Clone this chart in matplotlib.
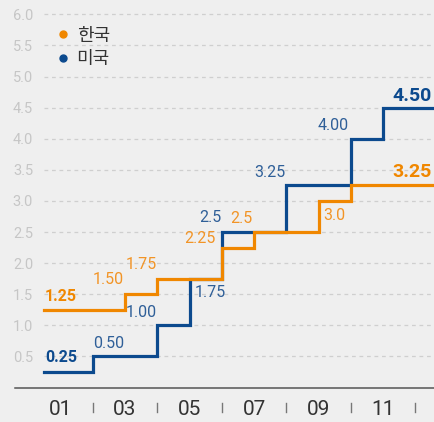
import matplotlib
matplotlib.use("Agg")
import matplotlib.pyplot as plt
from matplotlib.lines import Line2D

plt.rcParams['font.family'] = ['Roboto', 'Noto Sans CJK KR', 'DejaVu Sans']

# policy rate steps: period where the rate changed, and the new rate
kr_name = '한국'
kr_x = [0.5, 3, 4, 6, 7, 9, 10]
kr_rate = [1.25, 1.50, 1.75, 2.25, 2.50, 3.00, 3.25]
kr_text = ['1.25', '1.50', '1.75', '2.25', '2.5', '3.0', '3.25']

us_name = '미국'
us_x = [0.5, 2, 4, 5, 6, 8, 10, 11]
us_rate = [0.25, 0.50, 1.00, 1.75, 2.50, 3.25, 4.00, 4.50]
us_text = ['0.25', '0.50', '1.00', '1.75', '2.5', '3.25', '4.00', '4.50']

x_ticks = [1, 3, 5, 7, 9, 11]
x_ticklabels = ['01', '03', '05', '07', '09', '11']
y_ticks = [0.5, 1.0, 1.5, 2.0, 2.5, 3.0, 3.5, 4.0, 4.5, 5.0, 5.5, 6.0]

# where each value label sits (data coords)
kr_label_pos = [(1.02, 1.47), (2.49, 1.73), (3.50, 1.97), (5.33, 2.40),
                (6.60, 2.72), (9.48, 2.76), (11.90, 3.46)]
us_label_pos = [(1.02, 0.49), (2.50, 0.71), (3.50, 1.21), (5.64, 1.52),
                (5.64, 2.74), (7.50, 3.46), (9.45, 4.22), (11.90, 4.69)]

orange = '#f08700'
navy = '#0c4a8e'
orange_txt = '#f29426'
navy_txt = '#2f5f98'
bg = '#efefef'

x_end = 12.6

fig = plt.figure(figsize=(4.34, 4.22), dpi=100, facecolor=bg)
ax = fig.add_axes([15 / 434, 34.5 / 422, 419 / 434, 373.2 / 422])
ax.set_facecolor(bg)
ax.set_xlim(-0.411, 12.58)
ax.set_ylim(0, 6)

# dashed grid, starting where the data starts
for y in y_ticks:
    ax.plot([0.5, x_end], [y, y], color='#cfcfcf', lw=0.9, ls=(0, (3, 3)),
            zorder=1, clip_on=False)

ax.step(us_x + [x_end], us_rate + [us_rate[-1]], where='post',
        color=navy, lw=2.3, zorder=3, solid_joinstyle='miter')
ax.step(kr_x + [x_end], kr_rate + [kr_rate[-1]], where='post',
        color=orange, lw=2.3, zorder=4, solid_joinstyle='miter')


def value_labels(texts, positions, strong, soft):
    last = len(texts) - 1
    for i, (t, (px, py)) in enumerate(zip(texts, positions)):
        edge = i == 0 or i == last
        size = 14 if i == last else 11.5
        ax.text(px, py, t, color=strong if edge else soft, fontsize=size,
                fontweight='bold' if edge else 'normal',
                ha='center', va='center', zorder=5)


value_labels(kr_text, kr_label_pos, orange, orange_txt)
value_labels(us_text, us_label_pos, navy, navy_txt)

# axes styling
for side in ['top', 'right', 'left']:
    ax.spines[side].set_visible(False)
ax.spines['bottom'].set_color('#555555')
ax.spines['bottom'].set_linewidth(1.1)

ax.set_yticks(y_ticks)
ax.set_yticklabels([f'{v:.1f}' for v in y_ticks])
ax.tick_params(axis='y', length=0, pad=-13, labelsize=10.5, labelcolor='#c6c6c6')
for lbl in ax.get_yticklabels():
    lbl.set_horizontalalignment('right')

ax.set_xticks(x_ticks)
ax.set_xticklabels(x_ticklabels)
ax.tick_params(axis='x', length=0, pad=9, labelsize=15, labelcolor='#333333')

# small separators between the year labels
for xs in [2, 4, 6, 8, 10, 12]:
    ax.plot([xs, xs], [-0.25, -0.39], color='#777777', lw=1.0, clip_on=False)

handles = [Line2D([], [], marker='o', ls='none', color=orange, markersize=5),
           Line2D([], [], marker='o', ls='none', color=navy, markersize=5)]
leg = ax.legend(handles, [kr_name, us_name], loc='upper left',
                bbox_to_anchor=(0.05, 1.01), frameon=False, fontsize=13,
                handletextpad=0.15, labelspacing=0.3, handlelength=1.2,
                labelcolor='#333333')

fig.savefig('out.png', dpi=100, facecolor=bg)
